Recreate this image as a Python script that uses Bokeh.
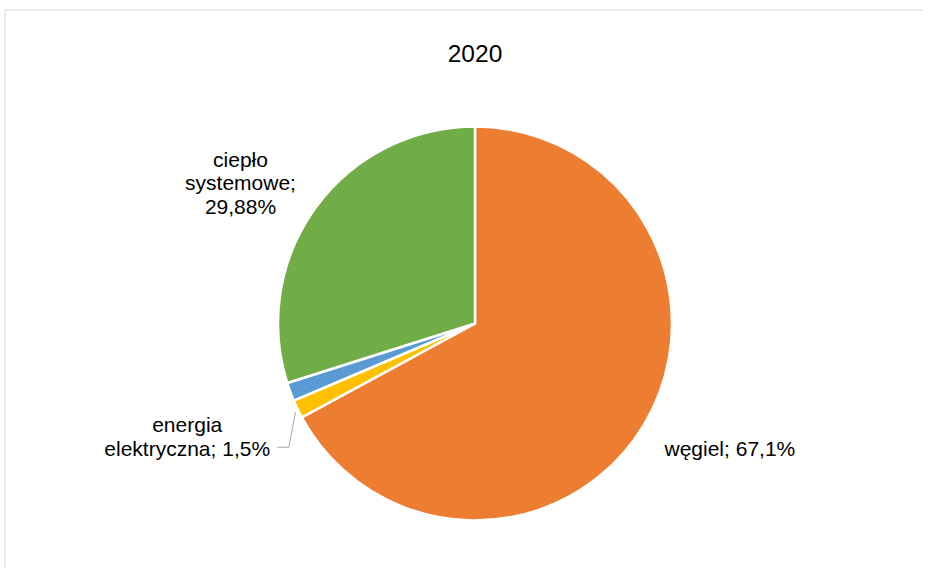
from bokeh.plotting import figure
from bokeh.models import ColumnDataSource, Range1d
from bokeh.core.properties import value
from bokeh.embed import file_html
from bokeh.resources import INLINE
import math

# ---- data ----
title_text = "2020"
categories = ["węgiel", "energia elektryczna", "inne", "ciepło systemowe"]
values = [67.1, 1.5, 1.52, 29.88]
labels = ["węgiel; 67,1%", "energia\nelektryczna; 1,5%", "", "ciepło\nsystemowe;\n29,88%"]
colors = ["#ED7D31", "#FFC000", "#5B9BD5", "#70AD47"]

# ---- layout (reference pixel coords: x right, y down) ----
W, H = 923, 568
PAGE = 576
OX, OY = 0, 0  # observed page offset of the figure in the screenshot
cx, cy, R = 474.5, 323.0, 197.0
label_pos = [(664, 447.7, "left"), (186.7, 447.7, "center"), None, (240, 205.7, "center")]
line_gap = 23.5
FONT = "Liberation Sans"

def Y(ref_y):
    return PAGE - ref_y

p = figure(width=W, height=H, output_backend="svg", toolbar_location=None,
           x_range=Range1d(OX, OX + W), y_range=Range1d(PAGE - OY - H, PAGE - OY),
           min_border=0, outline_line_color=None)
p.axis.visible = False
p.grid.visible = False
p.background_fill_color = "white"
p.border_fill_color = "white"

# chart border (top & left visible in reference)
p.segment(x0=[4.5, 4.5], y0=[Y(9.5), Y(9.5)], x1=[4.5, OX + W], y1=[Y(OY + H), Y(9.5)],
          line_color="#d9d9d9", line_width=1)

# wedges
total = sum(values)
starts, ends = [], []
cum = 0.0
for v in values:
    starts.append(math.pi / 2 - 2 * math.pi * cum / total)
    cum += v
    ends.append(math.pi / 2 - 2 * math.pi * cum / total)
src = ColumnDataSource(dict(x=[cx] * len(values), y=[Y(cy)] * len(values),
                            start=starts, end=ends, color=colors, cat=categories))
p.wedge(x="x", y="y", radius=R, start_angle="start", end_angle="end",
        direction="clock", fill_color="color", line_color="white", line_width=2.5, source=src)

# leader line for energia elektryczna
p.line(x=[276.7, 288.3, 295.0], y=[Y(446.7), Y(446.7), Y(411.7)],
       line_color="#a6a6a6", line_width=1)

# labels
tx, ty, tt, ta = [], [], [], []
for lab, pos in zip(labels, label_pos):
    if not lab or pos is None:
        continue
    lines = lab.split("\n")
    x0, yb, align = pos
    n = len(lines)
    for i, ln in enumerate(lines):
        tx.append(x0)
        ty.append(Y(yb - (n - 1 - i) * line_gap))
        tt.append(ln)
        ta.append(align)
lsrc = ColumnDataSource(dict(x=tx, y=ty, text=tt, align=ta))
p.text(x="x", y="y", text="text", text_align="align", text_baseline="alphabetic",
       text_font=value(FONT), text_font_size="21px", text_color="#000000", source=lsrc)

# title
p.text(x=[cx], y=[Y(53.3)], text=[title_text], text_align="center", text_baseline="alphabetic",
       text_font=value(FONT), text_font_size="24.5px", text_color="#000000")

open("out.html", "w").write(file_html(p, INLINE))
